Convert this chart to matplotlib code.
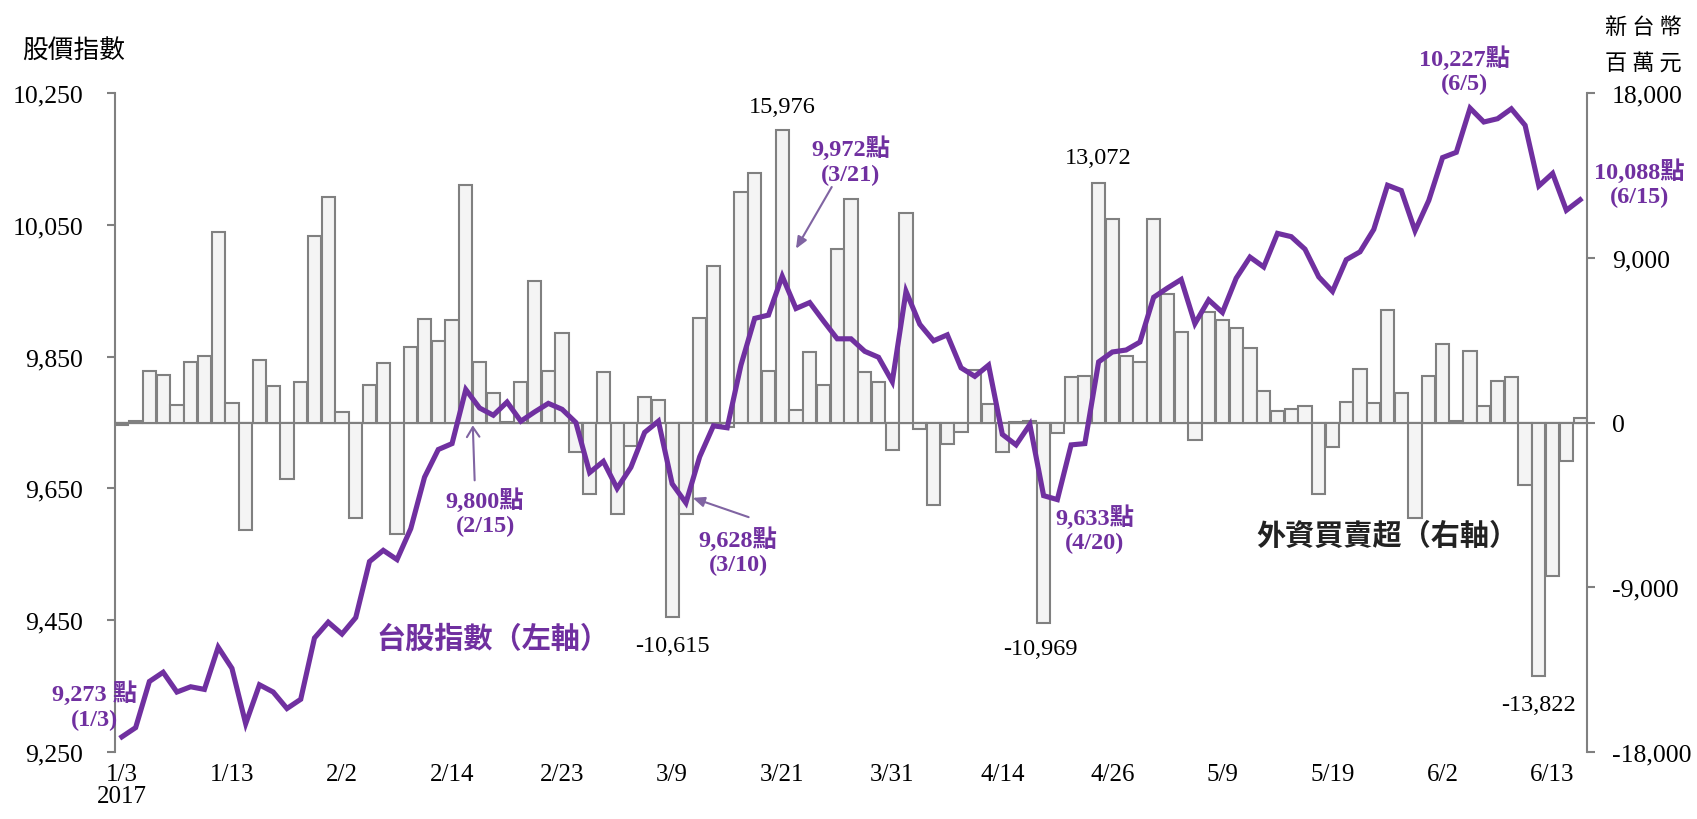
import matplotlib
matplotlib.use('Agg')
from matplotlib import pyplot as plt
from matplotlib.ticker import FuncFormatter

# trading days 2017/1/3 - 6/15
dates = ['1/3', '1/4', '1/5', '1/6', '1/9', '1/10', '1/11', '1/12', '1/13',
         '1/16', '1/17', '1/18', '1/19', '1/20', '1/23', '1/24',
         '2/2', '2/3', '2/6', '2/7', '2/8', '2/9', '2/10', '2/13',
         '2/14', '2/15', '2/16', '2/17', '2/18', '2/20', '2/21', '2/22',
         '2/23', '2/24', '3/1', '3/2', '3/3', '3/6', '3/7', '3/8',
         '3/9', '3/10', '3/13', '3/14', '3/15', '3/16', '3/17', '3/20',
         '3/21', '3/22', '3/23', '3/24', '3/27', '3/28', '3/29', '3/30',
         '3/31', '4/5', '4/6', '4/7', '4/10', '4/11', '4/12', '4/13',
         '4/14', '4/17', '4/18', '4/19', '4/20', '4/21', '4/24', '4/25',
         '4/26', '4/27', '4/28', '5/2', '5/3', '5/4', '5/5', '5/8',
         '5/9', '5/10', '5/11', '5/12', '5/15', '5/16', '5/17', '5/18',
         '5/19', '5/22', '5/23', '5/24', '5/25', '5/26', '5/31', '6/1',
         '6/2', '6/3', '6/5', '6/6', '6/7', '6/8', '6/9', '6/12',
         '6/13', '6/14', '6/15']

# TAIEX (left axis)
taiex = [9273, 9287, 9357, 9371, 9341, 9349, 9345, 9409, 9377, 9293,
         9352, 9341, 9316, 9330, 9423, 9447, 9429, 9454, 9539, 9556,
         9542, 9589, 9667, 9709, 9718, 9800, 9772, 9761, 9781, 9752,
         9766, 9779, 9770, 9750, 9674, 9691, 9650, 9682, 9735, 9752,
         9657, 9628, 9698, 9745, 9742, 9837, 9908, 9913, 9972, 9923,
         9932, 9904, 9877, 9877, 9858, 9849, 9812, 9949, 9899, 9874,
         9883, 9833, 9820, 9837, 9732, 9716, 9747, 9639, 9633, 9716,
         9718, 9842, 9857, 9860, 9872, 9940, 9954, 9967, 9900, 9936,
         9917, 9969, 10001, 9986, 10037, 10032, 10013, 9971, 9949, 9997,
         10009, 10043, 10110, 10102, 10041, 10087, 10152, 10160, 10227, 10206,
         10211, 10226, 10201, 10109, 10128, 10072, 10088]

# foreign net buy/sell, NT$ million (right axis)
foreign = [-150, 80, 2829, 2585, 951, 3293, 3659, 10390, 1049, -5854,
           3415, 2000, -3098, 2195, 10195, 12341, 585, -5244, 2049, 3268,
           -6098, 4098, 5634, 4439, 5610, 13000, 3317, 1634, 30, 2195,
           7707, 2805, 4878, -1634, -3902, 2756, -4976, -1268, 1366, 1244,
           -10615, -4976, 5683, 8561, -244, 12585, 13610, 2805, 15976, 683,
           3854, 2024, 9463, 12195, 2756, 2195, -1512, 11463, -341, -4512,
           -1195, -537, 2878, 1000, -1585, 50, 100, -10969, -585, 2512,
           2561, 13072, 11122, 3659, 3293, 11122, 7024, 4951, -976, 6049,
           5610, 5171, 4049, 1707, 634, 732, 927, -3902, -1317, 1122,
           2927, 1049, 6171, 1610, -5220, 2561, 4268, 73, 3902, 878,
           2268, 2488, -3415, -13822, -8390, -2122, 268]

left_ticks = [9250, 9450, 9650, 9850, 10050, 10250]
right_ticks = [-18000, -9000, 0, 9000, 18000]
tick_idx = list(range(0, 105, 8))

purple = '#7030A0'
arrow_c = '#8064A2'
gray = '#808080'
serif = ['Liberation Serif', 'Noto Sans CJK TC']
cjk = ['Noto Sans CJK TC', 'DejaVu Sans']

fig = plt.figure(figsize=(16.97, 8.2), dpi=100)
ax = fig.add_axes([115 / 1697, 1 - 753 / 820, 1472 / 1697, 659 / 820])
ax2 = ax.twinx()
ax.set_zorder(ax2.get_zorder() + 1)
ax.patch.set_visible(False)

x = list(range(len(dates)))

# bars
ax2.axhline(0, color=gray, lw=1.6, zorder=1)
ax2.bar(x, foreign, width=0.96, color='#F4F4F4', edgecolor=gray, linewidth=1.5, zorder=2)
ax2.set_ylim(-18000, 18000)
ax2.set_yticks(right_ticks)

# line
ax.plot(x, taiex, color=purple, lw=3.7, solid_joinstyle='miter', zorder=3)
ax.set_ylim(9250, 10250)
ax.set_yticks(left_ticks)
ax.set_xlim(-0.5, len(dates) - 0.5)
ax.set_xticks(tick_idx)
labels = [dates[i] for i in tick_idx]
labels[0] = '1/3\n2017'
ax.set_xticklabels(labels, family=serif, fontsize=18, linespacing=1.0)

fmt = FuncFormatter(lambda v, p: f'{v:,.0f}')
ax.yaxis.set_major_formatter(fmt)
ax2.yaxis.set_major_formatter(fmt)

for a in (ax, ax2):
    for s in ('top', 'bottom'):
        a.spines[s].set_visible(False)
ax.spines['right'].set_visible(False)
ax2.spines['left'].set_visible(False)
ax.spines['left'].set_color(gray)
ax.spines['left'].set_linewidth(1.5)
ax2.spines['right'].set_color(gray)
ax2.spines['right'].set_linewidth(1.5)

ax.tick_params(axis='x', length=0, pad=8)
ax.tick_params(axis='y', direction='out', length=6, width=1.5, color=gray, pad=17, labelsize=18.5)
ax2.tick_params(axis='y', direction='out', length=6, width=1.5, color=gray, pad=12, labelsize=18.5)
for t in ax.get_yticklabels() + ax2.get_yticklabels():
    t.set_family(serif)

# axis titles
fig.text(22 / 1697, 1 - 52 / 820, '股價指數', family=cjk, fontsize=18.5, va='center', ha='left')
fig.text(1643 / 1697, 1 - 27 / 820, '新 台 幣', family=cjk, fontsize=16, va='center', ha='center')
fig.text(1643 / 1697, 1 - 63 / 820, '百 萬 元', family=cjk, fontsize=16, va='center', ha='center')

# series labels
ax.text(27.0, 9424, '台股指數（左軸）', family=cjk, fontsize=21, color=purple,
        fontweight='bold', ha='center', va='center')
ax.text(92.0, 9579, '外資買賣超（右軸）', family=cjk, fontsize=21, color='#222222',
        fontweight='bold', ha='center', va='center')

# index annotations
notes = [(-2.0, 9321, '9,273 點\n(1/3)'),
         (26.4, 9615, '9,800點\n(2/15)'),
         (44.8, 9556, '9,628點\n(3/10)'),
         (53.0, 10148, '9,972點\n(3/21)'),
         (70.7, 9589, '9,633點\n(4/20)'),
         (97.6, 10285, '10,227點\n(6/5)'),
         (110.3, 10114, '10,088點\n(6/15)')]
for nx, ny, txt in notes:
    ax.text(nx, ny, txt, family=serif, fontsize=17.5, fontweight='bold', color=purple,
            ha='center', va='center', linespacing=1.2, clip_on=False)

ax.annotate('', xy=(25.5, 9750), xytext=(25.65, 9658),
            arrowprops=dict(arrowstyle='->,head_length=0.7,head_width=0.45', color=arrow_c, lw=1.5))
ax.annotate('', xy=(41.3, 9637), xytext=(45.75, 9605),
            arrowprops=dict(arrowstyle='-|>,head_length=0.7,head_width=0.3', color=arrow_c, lw=1.5))
ax.annotate('', xy=(48.9, 10010), xytext=(51.7, 10111),
            arrowprops=dict(arrowstyle='-|>,head_length=0.7,head_width=0.3', color=arrow_c, lw=1.5))

# bar value labels
bar_notes = [(48.0, 17250, '15,976'), (71.0, 14460, '13,072'),
             (40.0, -12170, '-10,615'), (66.8, -12335, '-10,969'),
             (103.0, -15390, '-13,822')]
for bx, by, txt in bar_notes:
    ax2.text(bx, by, txt, family=serif, fontsize=17.5, color='black', ha='center', va='center')

plt.savefig('out.png', dpi=100)
